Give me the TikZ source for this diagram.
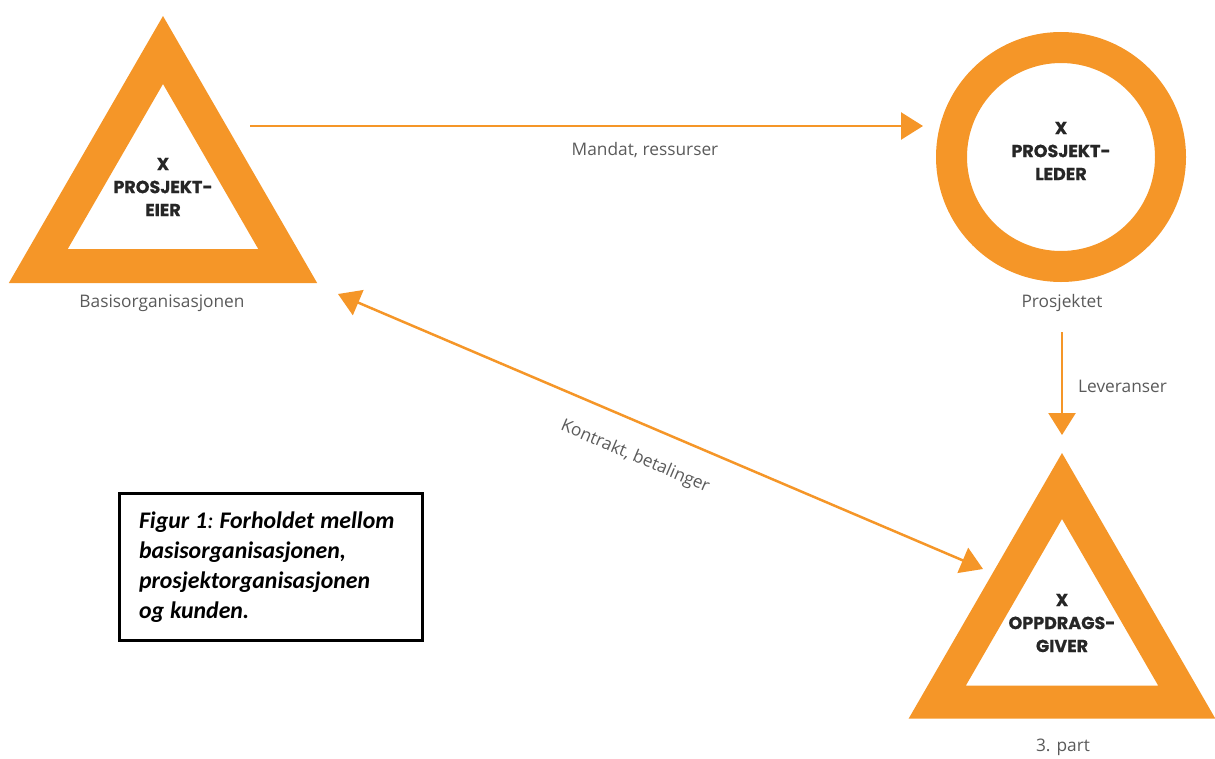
\documentclass[tikz,border=0pt]{standalone}
\usepackage{fontspec}
\setmainfont{Open Sans}
\newfontfamily\heavyfont{Poppins}[BoldFeatures={FakeBold=0.6}]
\newfontfamily\capfont{Carlito}
\usetikzlibrary{shapes.geometric,arrows.meta,calc}
\definecolor{brandorange}{HTML}{F59628}
\definecolor{labelgray}{HTML}{5A5A5A}
\tikzset{ftip/.tip={Triangle[length=22pt,width=27pt]}}
\newcommand\capspacing{\frenchspacing\spaceskip=0.25em plus 0.05em\relax}

\begin{document}
\begin{tikzpicture}[x=1pt,y=-1pt,
  tri/.style={regular polygon, regular polygon sides=3, draw=brandorange,
    line width=34pt, minimum size=288pt, inner sep=0pt, outer sep=0pt, line join=miter},
  ringshape/.style={circle, draw=brandorange, line width=31pt, minimum size=219pt,
    inner sep=0pt, outer sep=0pt},
  role/.style={font=\heavyfont\bfseries\fontsize{17.5}{23}\selectfont, align=center,
    text=black!85, inner sep=0pt},
  tag/.style={font=\fontsize{17.3}{20}\selectfont, text=labelgray, inner sep=0pt},
  flow/.style={draw=brandorange, line width=2.5pt},
  capbox/.style={draw=black, line width=3pt, minimum width=303pt, minimum height=147pt,
    text width=264pt, align=left, inner sep=0pt,
    font=\capfont\bfseries\itshape\fontsize{23.8}{30}\selectfont}
]
\useasboundingbox (0,0) rectangle (1215,758);

% the three parties
\node[tri] (eier) at (163,194) {};
\node[role] (eiertxt) at ([yshift=7pt]eier.center) {X\\PROSJEKT-\\EIER};
\node[tag] (basis) at (162,303) {Basisorganisasjonen};

\node[ringshape] (leder) at (1061,157) {};
\node[role] (ledertxt) at ([yshift=6pt]leder.center) {X\\PROSJEKT-\\LEDER};
\node[tag] (prosj) at (1062,303) {Prosjektet};

\node[tri, line width=33pt] (giver) at (1062,630) {};
\node[role] (givertxt) at ([yshift=7pt]giver.center) {X\\OPPDRAGS-\\GIVER};
\node[tag] (tredje) at (1063,747) {3. part};

% flows between them
\coordinate (m1) at (250,126);
\coordinate (m2) at (923,126);
\draw[flow, -{ftip}] (m1) -- (m2);
\node[tag] (mandat) at (645,150) {Mandat, ressurser};

\coordinate (l1) at (1062,332);
\coordinate (l2) at (1062,435);
\draw[flow, -{ftip}] (l1) -- (l2);
\node[tag, anchor=west] (lev) at (1078,386) {Leveranser};

\coordinate (k1) at (338,294);
\coordinate (k2) at (983,569);
\draw[flow, {ftip}-{ftip}] (k1) -- (k2);
\node[tag, rotate=-23.1] (kontrakt) at (635,457) {Kontrakt, betalinger};

% caption
\node[capbox] (caption) at (271,567)
  {\capspacing Figur 1{\mdseries:} Forholdet mellom\\basisorganisasjonen,\\prosjektorganisasjonen\\og kunden.};
\end{tikzpicture}
\end{document}
